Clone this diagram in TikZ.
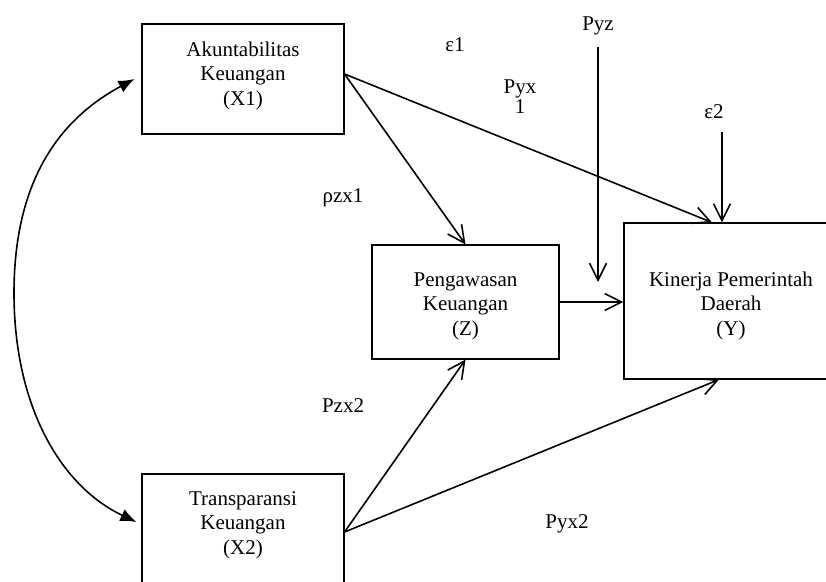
\documentclass[tikz,border=0pt]{standalone}
\usepackage{fontspec}
\setmainfont{Liberation Serif}
\usetikzlibrary{arrows.meta,calc}
\tikzset{
  boxnode/.style={draw, line width=1.1pt, inner sep=0pt, font=\fontsize{21}{24.5}\selectfont},
  lbl/.style={anchor=base, inner sep=0pt, font=\fontsize{21}{24.5}\selectfont},
  arr/.style={line width=1.6pt, -{Straight Barb[length=17pt,width=17pt]}},
  dbl/.style={line width=1.6pt, {Latex[length=16pt,width=13pt]}-{Latex[length=16pt,width=13pt]}},
}
\newcommand{\boxtext}[4]{\parbox[c][#2][t]{#1}{\centering\rule{0pt}{#3}#4}}
\begin{document}
\begin{tikzpicture}[x=1pt,y=-1pt]
\useasboundingbox (0,0) rectangle (826,581);
\clip (0,0) rectangle (826,581);
% boxes
\node[boxnode] (X1) at (243,79) {\boxtext{202pt}{110pt}{32pt}{Akuntabilitas\\Keuangan\\(X1)}};
\node[boxnode] (Z) at (465.5,302) {\boxtext{187pt}{114pt}{41pt}{Pengawasan\\Keuangan\\(Z)}};
\node[boxnode] (Y) at (731,301) {\boxtext{214pt}{156pt}{63pt}{Kinerja Pemerintah\\Daerah\\(Y)}};
\node[boxnode] (X2) at (243,529) {\boxtext{202pt}{110pt}{31pt}{Transparansi\\Keuangan\\(X2)}};
% labels
\node[lbl] (e1) at (455,51) {ε1};
\node[lbl] (pyx1) at (520,113) {\parbox[b]{50pt}{\fontsize{21}{20}\selectfont\centering Pyx\\1}};
\node[lbl] (pyz) at (598,30) {Pyz};
\node[lbl] (e2) at (714,118) {ε2};
\node[lbl] (rho) at (343,202) {ρzx1};
\node[lbl] (pzx2) at (343,412) {Pzx2};
\node[lbl] (pyx2) at (567,528) {Pyx2};
% connectors
\coordinate (pyzend) at (598,282);
\draw[arr] ($(X1.east)+(0,-5)$) -- (Z.north);
\draw[arr] ($(X1.east)+(0,-5)$) -- ($(Y.north)+(-19,0)$);
\draw[arr] ($(pyz.base)+(0,17)$) -- (pyzend);
\draw[arr] ($(Y.north)+(-9,-90)$) -- ($(Y.north)+(-9,0)$);
\draw[arr] (Z.east) -- (Z.east -| Y.west);
\draw[arr] ($(X2.east)+(0,3)$) -- (Z.south);
\draw[arr] ($(X2.east)+(0,3)$) -- ($(Y.south)+(-12,0)$);
\draw[dbl] ($(X1.west)+(-7,0)$) .. controls (60,119) and (14,180) .. (14,293)
  .. controls (14,408) and (62,487) .. ($(X2.west)+(-5,-7)$);
\end{tikzpicture}
\end{document}
